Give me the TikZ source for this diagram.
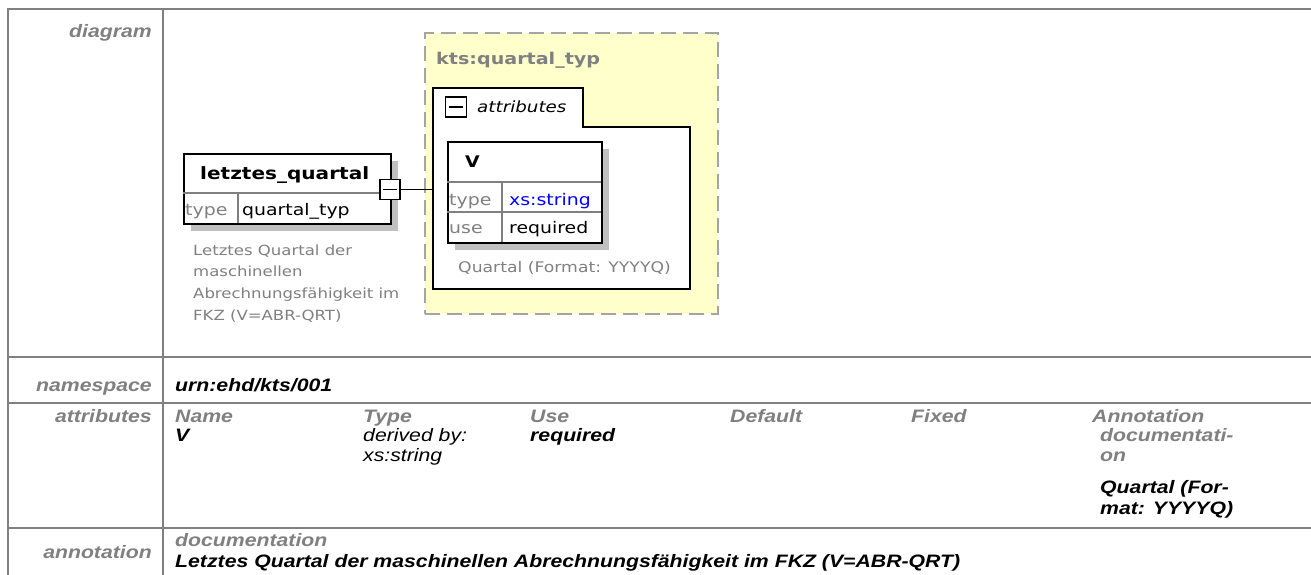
\documentclass[tikz,border=0pt]{standalone}
\usepackage{fontspec}
\newfontfamily\tf{Liberation Sans}[FakeStretch=1.18]
\newfontfamily\df{DejaVu Sans}[FakeStretch=1.18]
\definecolor{tgray}{HTML}{808080}
\definecolor{shadowc}{HTML}{C0C0C0}
\definecolor{ylw}{HTML}{FFFFCC}
\definecolor{dashc}{HTML}{A4A4A4}
\definecolor{xsblue}{HTML}{0000FF}
\tikzset{
  tline/.style={draw=tgray, line width=2pt},
  tfont/.style={font=\tf\bfseries\itshape\fontsize{18}{20}\selectfont, inner sep=0pt},
  lbl/.style={tfont, text=tgray, anchor=base east},
  hdr/.style={tfont, text=tgray, anchor=base west},
  val/.style={tfont, text=black, anchor=base west},
  valn/.style={font=\tf\itshape\fontsize{18}{20}\selectfont, inner sep=0pt, text=black, anchor=base west},
  dtxt/.style={font=\df\fontsize{16}{19}\selectfont, text=black, anchor=base west, inner sep=0pt},
  dgray/.style={font=\df\fontsize{16}{19}\selectfont, text=tgray, anchor=base west, inner sep=0pt},
  ddesc/.style={font=\df\fontsize{14}{19}\selectfont, text=tgray, anchor=base west, inner sep=0pt},
  box/.style={draw=black, line width=2pt, fill=white, inner sep=0pt, anchor=north west},
  shadowbox/.style={fill=shadowc, draw=none, inner sep=0pt, anchor=north west},
  minusbox/.style={draw=black, line width=1.5pt, fill=white, inner sep=0pt, minimum width=20pt, minimum height=20pt},
  inner/.style={draw=tgray, line width=1.3pt},
}
\begin{document}
\begin{tikzpicture}[x=1pt,y=-1pt]
\useasboundingbox (0,0) rectangle (1311,575);
\fill[white] (0,0) rectangle (1311,575);

% ---- table grid ----
\draw[tline] (8,575) -- (8,9) -- (1311,9);
\draw[tline] (163,9) -- (163,575);
\draw[tline] (8,357) -- (1311,357);
\draw[tline] (8,403) -- (1311,403);
\draw[tline] (8,528) -- (1311,528);

% ---- labels ----
\node[lbl] (ldiag) at (152,38) {diagram};
\node[lbl] (lns) at (152,391) {namespace};
\node[lbl] (lattr) at (152,422) {attributes};
\node[lbl] (lann) at (152,558) {annotation};

% ---- namespace ----
\node[val] (ns) at (175,391) {urn:ehd/kts/001};

% ---- attributes row ----
\node[hdr] (hname) at (175,422) {Name};
\node[hdr] (htype) at (363,422) {Type};
\node[hdr] (huse) at (530,422) {Use};
\node[hdr] (hdef) at (730,422) {Default};
\node[hdr] (hfix) at (911,422) {Fixed};
\node[hdr] (hann) at (1092,422) {Annotation};
\node[val] (aname) at (175,441) {V};
\node[valn] (atype1) at (363,441) {derived by:};
\node[valn] (atype2) at (363,461) {xs:string};
\node[val] (ause) at (530,441) {required};
\node[hdr] (adoc1) at (1100,441) {documentati-};
\node[hdr] (adoc2) at (1100,461) {on};
\node[val] (atxt1) at (1100,493) {Quartal (For-};
\node[val] (atxt2) at (1100,514) {mat: YYYYQ)};

% ---- annotation row ----
\node[hdr] (doc) at (175,546) {documentation};
\node[val] (doctxt) at (175,567) {Letztes Quartal der maschinellen Abrechnungsfähigkeit im FKZ (V=ABR-QRT)};

% ---- diagram: complex type box ----
\node[draw=dashc, dash pattern=on 15pt off 7pt, line width=2pt, fill=ylw, minimum width=293pt, minimum height=281pt, inner sep=0pt, anchor=north west] (ybox) at (424,32) {};
\node[font=\df\bfseries\fontsize{16.2}{19}\selectfont, text=tgray, anchor=base west, inner sep=0pt] (ktype) at (436,65) {kts:quartal\_typ};

% attributes tab
\draw[draw=black, line width=2pt, fill=white] (433,88) -- (583,88) -- (583,127) -- (690,127) -- (690,289) -- (433,289) -- cycle;
\node[minusbox, minimum width=21pt] (tabminus) at (456,107) {};
\draw[line width=1.5pt] ([xshift=4pt]tabminus.west) -- ([xshift=-4pt]tabminus.east);
\node[font=\df\itshape\fontsize{15.5}{19}\selectfont, anchor=base west, inner sep=0pt] (tabtxt) at (477,113) {attributes};

% V attribute box
\node[shadowbox, minimum width=154pt, minimum height=101pt] (vshadow) at (455,149) {};
\node[box, minimum width=154pt, minimum height=101pt] (vbox) at (447,141) {};
\draw[inner] (447,182) -- (601,182);
\draw[inner] (447,212) -- (601,212);
\draw[inner] (502,182) -- (502,242);
\node[font=\df\bfseries\fontsize{16}{19}\selectfont, anchor=base west, inner sep=0pt] (vname) at (465,167) {V};
\node[dgray] (vtypel) at (449,205) {type};
\node[dtxt, text=xsblue] (vtype) at (509,205) {xs:string};
\node[dgray] (vusel) at (449,233) {use};
\node[dtxt] (vuse) at (509,233) {required};
\node[font=\df\fontsize{14.6}{19}\selectfont, text=tgray, anchor=base west, inner sep=0pt] (vdesc) at (458,272) {Quartal (Format: YYYYQ)};

% ---- element box ----
\node[shadowbox, minimum width=207pt, minimum height=70pt] (eshadow) at (191,161) {};
\node[box, minimum width=207pt, minimum height=70pt] (elem) at (183,153) {};
\draw[inner] (183,193) -- (390,193);
\draw[inner] (238,193) -- (238,223);
\node[font=\df\bfseries\fontsize{17}{19}\selectfont, anchor=base west, inner sep=0pt] (ename) at (200,179) {letztes\_quartal};
\node[dgray] (etypel) at (185,215) {type};
\node[dtxt] (etype) at (242,215) {quartal\_typ};
\node[minusbox] (eminus) at (390,189.5) {};
\draw[line width=1.5pt] ([xshift=4pt]eminus.west) -- ([xshift=-4pt]eminus.east);
\coordinate (tabin) at (433,189.5);
\draw[line width=1.5pt] (eminus.east) -- (tabin);

\node[ddesc] (ed1) at (193,255) {Letztes Quartal der};
\node[ddesc] (ed2) at (193,276) {maschinellen};
\node[ddesc] (ed3) at (193,298) {Abrechnungsfähigkeit im};
\node[ddesc] (ed4) at (193,320) {FKZ (V=ABR-QRT)};
\end{tikzpicture}
\end{document}
